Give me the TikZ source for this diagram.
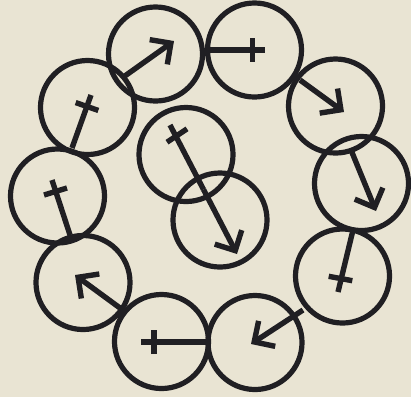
\documentclass[tikz,border=0pt]{standalone}
\usepackage{xcolor}
\usepackage{tikz}
\usetikzlibrary{arrows.meta,calc}

\definecolor{paper}{RGB}{233,228,211}
\definecolor{ink}{RGB}{32,31,35}

\begin{document}
\begin{tikzpicture}[
  x=0.025cm, y=-0.025cm,
  ring/.style={circle, draw=ink, line width=0.13cm, minimum size=2.35cm, inner sep=0pt},
  sign/.style={draw=ink, line width=0.135cm},
  male/.style={sign, -{Straight Barb[length=0.38cm, width=0.76cm]}}
]

% Paper
\useasboundingbox (0,0) rectangle (411,397);
\fill[paper] (0,0) rectangle (411,397);

% Ring of circles
\node[ring] (a) at (155.5,54) {};
\node[ring] (b) at (254.5,50) {};
\node[ring] (c) at (335.5,106) {};
\node[ring] (d) at (361.5,183.5) {};
\node[ring] (e) at (342.5,276) {};
\node[ring] (f) at (255,342.5) {};
\node[ring] (g) at (161.5,341.5) {};
\node[ring] (h) at (83,282.5) {};
\node[ring] (i) at (57.5,196) {};
\node[ring] (j) at (87.5,107.5) {};

% Inner pair
\node[ring] (k) at (186,154.5) {};
\node[ring] (l) at (220,220) {};

% Sign ends: 0 = start, 1 = end, 2 = crossbar
\coordinate (a0) at (122,78);    \coordinate (a1) at (174,41);
\coordinate (b0) at (208,50);    \coordinate (b1) at (265,50);    \coordinate (b2) at (252.5,50);
\coordinate (c0) at (300,80);    \coordinate (c1) at (344,112);
\coordinate (d0) at (351,150);   \coordinate (d1) at (376,211);
\coordinate (e0) at (353,230);   \coordinate (e1) at (338,292);   \coordinate (e2) at (340.5,278.5);
\coordinate (f0) at (303,310);   \coordinate (f1) at (251,344);
\coordinate (g0) at (207,342);   \coordinate (g1) at (141,342);   \coordinate (g2) at (154,342);
\coordinate (h0) at (120,308);   \coordinate (h1) at (75,275);
\coordinate (i0) at (70,235);    \coordinate (i1) at (52,180);    \coordinate (i2) at (55.5,191.5);
\coordinate (j0) at (72,148);    \coordinate (j1) at (91,95);     \coordinate (j2) at (87,106.5);
\coordinate (k0) at (203.5,189.5); \coordinate (k1) at (170,125); \coordinate (k2) at (177,135.5);
\coordinate (l0) at (203.5,189.5); \coordinate (l1) at (237,254);

% Arrows
\foreach \n in {a,c,d,f,h,l}
  \draw[male] (\n0) -- (\n1);

% Crosses
\foreach \n in {b,e,g,i,j,k} {
  \draw[sign] (\n0) -- (\n1);
  \draw[sign] ($(\n2)!0.3cm!90:(\n1)$) -- ($(\n2)!0.3cm!-90:(\n1)$);
}

\end{tikzpicture}
\end{document}
